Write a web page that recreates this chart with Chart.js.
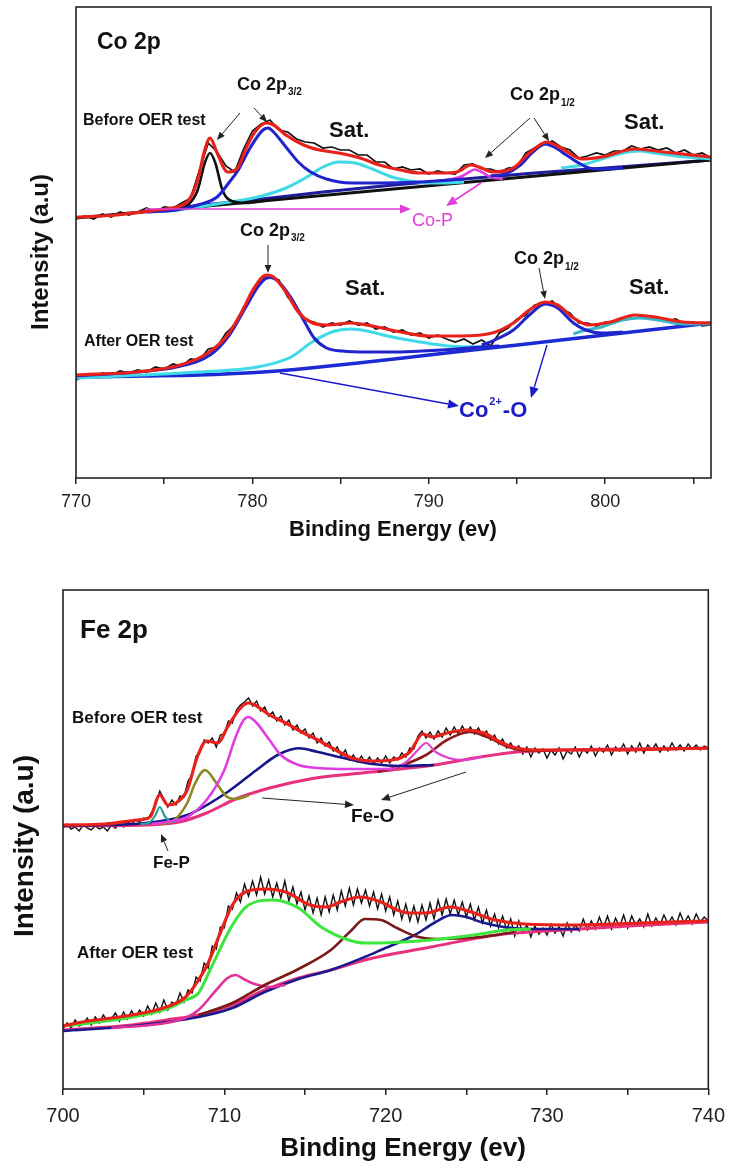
<!DOCTYPE html>
<html><head><meta charset="utf-8">
<script src="https://cdn.jsdelivr.net/npm/chart.js@4.4.1/dist/chart.umd.min.js"></script>
<style>
html,body{margin:0;padding:0;background:#fff;}
#w{position:relative;width:734px;height:1169px;overflow:hidden;}
canvas{position:absolute;left:0;}
#c1{top:0;} #c2{top:560px;}
</style></head><body>
<div id="w"><canvas id="c1" width="734" height="545"></canvas><canvas id="c2" width="734" height="609"></canvas></div>
<script>
// ---------- Co 2p ----------
const coXRange = [770, 806];
const coRawStart = 770, coRawStep = 0.5;
// Before OER test
const coBeforeRaw = [25.9,26.2,25.9,26.4,26.1,26.6,26.3,26.6,27.0,26.6,
 27.1,27.0,27.5,28.0,30.8,33.5,32.6,31.2,30.6,32.9,
 34.7,35.4,35.8,34.8,34.6,33.9,33.6,33.5,33.0,33.1,
 32.8,32.8,32.3,32.3,31.6,31.6,30.9,31.1,30.8,30.9,
 30.4,30.7,30.5,30.4,31.3,31.4,30.9,30.9,30.6,31.0,
 31.1,32.5,33.0,33.3,33.7,33.1,32.8,32.0,32.2,32.5,
 32.3,32.7,32.7,33.2,32.9,33.1,32.8,33.0,32.5,32.8,
 32.3,32.5,32.0];
const coBeforeEnvE = [770,772.3,774.6,775.7,776.4,776.9,777.3,777.6,778.0,778.6,779.2,779.6,780.1,780.8,781.2,781.9,782.9,783.8,784.9,786.1,787.2,788.4,789.5,790.7,791.6,792.4,793.0,793.6,794.8,795.7,796.7,797.5,798.7,799.8,801.7,803.3,806];
const coBeforeEnvI = [26.07,26.3,26.8,27.1,27.8,29.8,32.8,34.0,32.5,30.6,31.1,32.8,34.5,35.5,35.3,34.3,33.3,32.8,32.5,32.0,31.3,30.8,30.5,30.5,30.6,31.3,31.0,30.6,31.0,32.5,33.6,33.0,31.9,32.1,32.9,32.6,32.1];
const coBeforeBgE = [770,788,806];
const coBeforeBgI = [26.0,28.9,31.8];
const coBeforeBg2E = [775,780,784,788,792,796,800,806];
const coBeforeBg2I = [26.9,27.8,28.6,29.3,29.9,30.5,31.0,31.8];
const coBeforePhosE = [774,775.5,776.4,776.9,777.3,777.6,777.9,778.3,778.7,779.6,781];
const coBeforePhosI = [26.65,26.9,27.4,28.8,31.5,32.5,31.5,28.8,27.8,27.5,27.8];
const coBefore32E = [774,775.7,776.9,778.0,778.7,779.2,779.9,780.6,780.9,781.2,781.9,782.6,783.3,784.2,785.6,787.2,789.5,792];
const coBefore32I = [26.6,26.8,27.3,28.1,29.6,30.8,33.1,34.8,35.0,34.6,33.1,31.6,30.6,29.9,29.5,29.5,29.6,29.9];
const coBeforeSat1E = [774,775.7,778.0,780.3,781.9,783.1,784.0,784.9,785.8,786.8,787.9,789.3,790.7,792];
const coBeforeSat1I = [26.6,26.8,27.4,28.1,29.0,30.1,31.1,31.6,31.5,30.9,30.1,29.6,29.5,29.6];
const coBeforeCoPE = [790.5,791.3,791.9,792.3,792.6,793.0,793.5,794.2];
const coBeforeCoPI = [29.7,29.9,30.2,30.6,30.85,30.6,30.1,29.9];
const coBefore12E = [793.5,794.3,795.2,795.9,796.6,797.1,797.8,798.5,799.1,799.8,801];
const coBefore12I = [30.2,30.4,31.3,32.6,33.4,33.1,32.3,31.5,31.0,30.9,31.0];
const coBeforeSat2E = [797.5,798.7,799.8,801.0,801.9,802.8,804.0,806];
const coBeforeSat2I = [31.0,31.3,31.9,32.5,32.7,32.5,32.2,31.9];
// After OER test
const coAfterRaw = [9.8,10.2,10.1,10.5,10.3,10.7,10.5,10.8,10.6,11.1,
 10.9,11.4,11.2,11.9,11.8,12.9,13.1,14.5,15.3,17.1,
 18.5,19.9,20.1,19.8,18.1,17.1,15.8,15.6,15.1,15.5,
 15.3,15.7,15.3,15.5,14.9,15.1,14.6,14.8,14.3,14.5,
 14.0,14.3,13.9,13.6,13.9,13.4,13.8,13.2,14.5,15.0,
 15.9,16.3,17.3,17.4,17.7,16.9,16.5,15.5,15.5,15.2,
 15.6,15.5,15.8,15.9,16.1,15.9,16.1,15.7,15.9,15.4,
 15.6,15.2,15.3];
const coAfterEnvE = [770,773.4,775.7,777.3,778.5,779.4,780.1,780.8,781.2,781.9,782.6,783.3,784.2,785.6,786.8,788.4,790.0,791.8,793.6,794.8,795.7,796.6,797.3,798.2,799.1,800.3,801.7,802.8,804.4,806];
const coAfterEnvI = [10.3,10.6,11.2,12.3,14.1,16.6,19.0,20.3,20.1,18.6,16.6,15.6,15.3,15.5,15.2,14.6,14.2,14.2,14.5,15.5,16.8,17.6,17.3,16.0,15.3,15.6,16.3,16.1,15.6,15.5];
const coAfterBgE = [770,774,777,779,781,783,786,790,794,798,802,806];
const coAfterBgI = [10.1,10.2,10.3,10.45,10.65,10.95,11.5,12.3,13.1,13.9,14.7,15.5];
const coAfter32E = [770,773.4,775.7,777.6,778.7,779.6,780.3,780.8,781.0,781.5,782.2,782.9,783.5,784.2,785.1,786.5,788.4,790.7,793.0,794];
const coAfter32I = [10.2,10.6,11.1,12.3,14.3,17.0,19.1,20.0,20.05,19.6,18.0,15.8,14.0,13.0,12.7,12.6,12.6,12.8,13.1,13.2];
const coAfterSat1E = [770,776.9,780.3,782.2,783.3,784.5,785.6,786.5,787.9,789.5,791.1,793];
const coAfterSat1I = [10.0,10.6,11.1,12.1,13.5,14.6,14.9,14.7,14.1,13.6,13.2,13.1];
const coAfter12E = [793.0,793.6,794.8,795.7,796.6,797.3,798.2,798.9,799.8,801];
const coAfter12I = [13.3,13.7,14.8,16.3,17.4,17.0,15.5,14.8,14.5,14.6];
const coAfterSat2E = [798.2,798.7,799.8,801.0,801.9,803.0,804.4,806];
const coAfterSat2I = [14.4,14.7,15.1,15.8,16.0,15.8,15.4,15.4];

// ---------- Fe 2p ----------
const feXRange = [700, 740];
const feRawStart = 700, feRawStep = 0.25;
const feBeforeRaw = [
 26.1,26.5,26.0,26.2, 25.8,26.4,26.1,25.9, 26.3,26.0,26.2,25.8, 26.4,26.1,26.5,26.2, 26.7,26.5,26.9,26.7,
 27.1,27.0,27.7,28.6, 29.8,29.0,28.2,28.9, 28.4,29.3,29.2,30.8, 31.4,33.3,33.7,34.9, 34.6,35.1,34.2,35.4,
 35.5,36.8,36.6,37.9, 38.4,38.7,39.1,38.3, 38.8,37.8,38.2,37.3, 37.7,36.8,37.3,36.4, 36.9,35.9,36.4,35.6,
 36.0,35.1,35.6,34.6, 35.1,34.3,34.7,33.8, 34.2,33.3,33.9,32.9, 33.4,32.7,33.3,32.6, 33.2,32.5,33.1,32.6,
 33.3,32.6,33.2,32.9, 33.6,33.2,34.1,34.0, 35.3,35.8,35.1,35.7, 35.0,35.8,35.2,36.1, 35.4,36.2,35.5,36.3,
 35.6,36.2,35.5,36.1, 35.3,35.8,34.9,35.4, 34.5,35.0,34.1,34.6, 33.9,34.3,33.5,34.2, 33.2,34.1,33.6,34.0,
 33.1,33.9,33.4,34.1, 33.0,33.8,33.5,34.2, 33.2,34.0,33.6,34.3, 33.3,34.1,33.7,34.4, 33.4,34.2,33.8,34.5,
 33.5,34.3,33.7,34.6, 33.6,34.4,33.9,34.5, 33.7,34.3,33.8,34.6, 33.9,34.4,33.8,34.5, 34.0,34.4,33.9,34.3,
 34.1];
const feBeforeEnvE = [700,702.6,704.6,705.4,706.0,706.5,707.0,707.7,708.3,708.9,709.6,710.2,711.0,711.5,712.0,712.8,713.8,714.8,715.8,716.9,717.9,719.2,720.4,721.5,722.3,722.9,723.8,725.0,726.1,727.1,728.1,729.4,733.2,740];
const feBeforeEnvI = [26.4,26.5,26.9,27.2,29.4,28.4,28.6,29.9,33.1,34.8,34.6,36.2,38.1,38.6,38.3,37.4,36.6,35.7,34.9,33.9,33.1,32.8,32.9,33.7,35.5,35.2,35.6,35.9,35.6,34.7,34.1,33.9,33.9,34.1];
const feBeforeBgE = [700,705.1,707.2,708.9,710.7,712.8,715.3,717.9,720.4,723,725.5,728.1,730.7,740];
const feBeforeBgI = [26.3,26.4,26.7,27.6,29.0,30.1,31.0,31.5,31.9,32.4,33.1,33.7,33.9,34.07];
const feBeforeFePE = [704.8,705.3,705.7,706.0,706.3,706.6,707.0];
const feBeforeFePI = [26.5,26.6,27.3,28.2,27.3,26.8,26.7];
const feBeforeOliveE = [706.0,706.9,707.7,708.2,708.8,709.5,710.1,710.7,711.5];
const feBeforeOliveI = [26.5,26.9,28.6,30.6,31.9,30.6,29.3,29.0,29.35];
const feBeforeMagE = [705.5,706.8,707.7,708.9,710.0,710.7,711.2,711.5,712.0,712.8,713.5,714.6,715.8,717.9,720.4];
const feBeforeMagI = [26.5,26.8,27.2,28.9,31.9,35.2,36.9,37.2,36.6,34.9,33.4,32.4,32.1,32.0,32.0];
const feBeforeNavyE = [700,705.1,707.7,710.2,712.0,713.3,714.6,715.8,717.4,719.2,721,723];
const feBeforeNavyI = [26.3,26.6,27.4,29.7,31.9,33.4,34.07,33.7,33.1,32.5,32.3,32.4];
const feBeforeMag2E = [720.4,721.2,722.0,722.5,723.1,723.9,724.8,726];
const feBeforeMag2I = [32.0,32.6,33.9,34.6,33.7,33.1,32.9,33.2];
const feBeforeBrownE = [719.5,720.9,722.5,723.8,725.2,726.3,727.6,728.9,730.7];
const feBeforeBrownI = [31.7,32.3,33.4,34.9,35.7,35.2,34.2,33.8,33.9];
// After OER test
const feAfterRaw = [
 6.0,6.6,6.1,6.9, 6.3,6.5,7.1,6.4, 7.2,6.6,7.4,6.8, 7.0,7.6,6.8,7.7, 7.0,7.8,7.2,7.9,
 7.3,8.3,7.5,8.6, 7.7,8.9,7.9,8.7, 8.4,9.6,8.7,9.9, 9.6,11.2,10.8,12.6, 12.1,14.3,14.0,16.2,
 16.1,18.3,18.0,19.6, 18.7,20.5,19.3,20.8, 19.4,21.2,19.5,20.9, 19.2,20.6,19.1,20.8, 18.8,20.2,18.5,19.7,
 17.9,19.3,17.6,19.1, 17.4,19.2,17.7,19.4, 17.9,19.8,18.3,20.1, 18.4,20.0,18.6,19.9, 18.3,19.7,18.0,19.5,
 17.8,19.2,17.4,18.8, 17.0,18.5,16.8,18.3, 16.7,18.4,16.9,18.6, 17.0,18.9,17.4,19.0, 17.5,18.9,17.4,18.7,
 17.2,18.5,16.9,18.2, 16.6,17.9,16.3,17.5, 16.1,17.3,15.9,17.0, 15.3,16.8,15.6,16.4, 15.2,16.3,15.5,16.1,
 15.4,16.5,15.6,16.2, 15.3,16.6,15.7,16.4, 15.8,17.0,15.9,16.8, 16.0,17.2,16.1,17.3, 16.0,17.1,16.2,17.4,
 16.1,17.3,16.4,17.0, 16.2,17.5,16.3,17.1, 16.4,17.4,16.5,17.2, 16.4,17.6,16.6,17.3, 16.5,17.5,16.7,17.2,
 16.8];
const feAfterEnvE = [700,701.2,704.3,706.4,707.6,708.4,709.0,709.5,710.0,710.5,711.3,712.5,713.8,715.3,716.3,717.2,718.4,719.7,720.7,721.5,722.5,724.0,725.3,726.8,728.6,731.9,735.8,740];
const feAfterEnvI = [6.3,6.7,7.4,8.2,9.2,10.9,12.6,14.6,16.6,18.4,19.7,20.0,19.7,18.4,18.2,18.7,19.2,18.7,17.9,17.6,17.6,18.2,17.7,16.9,16.5,16.4,16.6,16.8];
const feAfterBgE = [700,704.3,706.4,708.4,710.5,712.5,714.6,716.6,718.7,722.8,726.9,731,735.1,740];
const feAfterBgI = [5.9,6.4,6.9,7.4,8.4,9.9,11.1,11.9,12.9,14.2,15.4,15.9,16.3,16.7];
const feAfterNavyE = [700,704.3,708.4,710.5,712.5,714.6,716.6,718.7,719.7,721.8,723.0,724.1,725.0,725.9,727.3,729,732];
const feAfterNavyI = [5.8,6.3,7.2,8.1,9.7,11.0,11.9,13.2,13.9,15.4,16.6,17.4,17.2,16.7,16.2,16.0,16.0];
const feAfterMagE = [703,706.4,707.7,708.4,709.5,710.2,710.7,711.2,711.7,712.9,713.8];
const feAfterMagI = [6.1,6.6,7.2,7.9,9.9,11.1,11.4,11.0,10.6,10.2,10.4];
const feAfterGreenE = [700,701.2,704.3,706.4,707.6,708.4,709.2,710.5,711.5,713.0,714.6,716.0,717.7,718.7,720.5,722.8,725.5,727.5,729];
const feAfterGreenI = [6.3,6.5,7.2,8.0,8.9,9.6,12.2,16.4,18.4,18.9,18.1,16.2,14.9,14.6,14.65,14.9,15.4,15.9,16.0];
const feAfterBrownE = [708.4,710.5,712.5,714.6,716.6,717.9,718.7,719.7,720.7,721.8,723.2,725.9,728];
const feAfterBrownI = [7.4,8.6,10.4,12.0,13.9,15.9,17.0,16.9,16.1,15.3,15.0,15.2,15.7];

// ---------- helpers ----------
const FONT = '"Liberation Sans", Arial, Helvetica, sans-serif';
const RED = '#e8221b';
function series(E, I){ return E.map((e,i)=>({x:e, y:I[i]})); }
function rawSeries(start, step, I){ return I.map((v,i)=>({x: start + i*step, y: v})); }
function ds(data, color, width, order, smooth){
  return {data, borderColor:color, borderWidth:width, order, pointRadius:0, fill:false,
    cubicInterpolationMode: smooth===false ? 'default' : 'monotone', tension: 0};
}

const deco = {
  id:'deco',
  afterDraw(chart, args, o){
    const ctx = chart.ctx, a = chart.chartArea;
    ctx.save();
    ctx.strokeStyle = '#222'; ctx.lineWidth = 1.6;
    ctx.strokeRect(a.left, a.top, a.right - a.left, a.bottom - a.top);
    (o.arrows||[]).forEach(ar=>{
      const [x1,y1,x2,y2] = ar.p, head = ar.head||8;
      ctx.strokeStyle = ar.color; ctx.fillStyle = ar.color; ctx.lineWidth = ar.w||1;
      const ang = Math.atan2(y2-y1, x2-x1);
      const bx = x2 - head*Math.cos(ang), by = y2 - head*Math.sin(ang);
      ctx.beginPath(); ctx.moveTo(x1,y1); ctx.lineTo(bx,by); ctx.stroke();
      const hw = head*0.42;
      ctx.beginPath(); ctx.moveTo(x2,y2);
      ctx.lineTo(bx + hw*Math.sin(ang), by - hw*Math.cos(ang));
      ctx.lineTo(bx - hw*Math.sin(ang), by + hw*Math.cos(ang));
      ctx.closePath(); ctx.fill();
    });
    ctx.textBaseline = 'alphabetic';
    (o.texts||[]).forEach(t=>{
      let x = t.x;
      ctx.fillStyle = t.color || '#111';
      t.parts.forEach(p=>{
        ctx.font = p[1] + ' ' + FONT; ctx.textAlign = 'left';
        ctx.fillText(p[0], x, t.y + (p[2]||0));
        x += ctx.measureText(p[0]).width + (p[3]||0);
      });
    });
    if (o.xTitle){
      ctx.fillStyle = '#111'; ctx.font = o.xTitle.font + ' ' + FONT; ctx.textAlign = 'center';
      ctx.fillText(o.xTitle.text, o.xTitle.x, o.xTitle.y);
    }
    if (o.yTitle){
      ctx.save(); ctx.translate(o.yTitle.x, o.yTitle.y); ctx.rotate(-Math.PI/2);
      ctx.fillStyle = '#111'; ctx.font = o.yTitle.font + ' ' + FONT; ctx.textAlign = 'center';
      ctx.fillText(o.yTitle.text, 0, 0); ctx.restore();
    }
    ctx.restore();
  }
};

function options(c){
  return {
    responsive:false, animation:false, devicePixelRatio:1, events:[],
    layout:{padding:{left:c.padL, right:c.padR, top:c.padT, bottom:c.padB}},
    plugins:{legend:{display:false}, tooltip:{enabled:false}, deco:c.deco},
    scales:{
      x:{type:'linear', min:c.xr[0], max:c.xr[1],
        afterFit(s){ s.height = c.xH; },
        afterBuildTicks(s){ s.ticks = s.ticks.filter(t=>Math.abs(t.value % 5) < 1e-6); },
        ticks:{stepSize:5, includeBounds:false, autoSkip:false, maxRotation:0, minRotation:0,
          padding:c.tickPad, color:'#222', font:{family:FONT, size:c.tickSize},
          callback:(v)=> Math.abs(v % 10) < 1e-6 ? String(v) : ''},
        grid:{display:true, drawOnChartArea:false, drawTicks:true, tickLength:6, color:'#222', lineWidth:1.5},
        border:{display:false}},
      y:{display:false, min:0, max:c.ymax}
    }
  };
}

// ---------- Chart 1 : Co 2p ----------
const CYAN = '#3fd9e8', BLUE = '#1f24cc';
new Chart(document.getElementById('c1'), {
  type:'line',
  data:{datasets:[
    ds(series(coBeforeEnvE, coBeforeEnvI), RED, 3.2, 0),
    ds(series(coAfterEnvE, coAfterEnvI), RED, 3.2, 0),
    ds(series(coBefore32E, coBefore32I), BLUE, 3, 1),
    ds(series(coBefore12E, coBefore12I), BLUE, 3, 1),
    ds(series(coBeforePhosE, coBeforePhosI), '#111', 2.6, 1),
    ds(series(coBeforeCoPE, coBeforeCoPI), '#e040d8', 2.6, 1),
    ds(series(coBeforeSat1E, coBeforeSat1I), CYAN, 3, 1),
    ds(series(coBeforeSat2E, coBeforeSat2I), CYAN, 3, 1),
    ds(series(coAfter32E, coAfter32I), BLUE, 3, 1),
    ds(series(coAfter12E, coAfter12I), BLUE, 3, 1),
    ds(series(coAfterSat1E, coAfterSat1I), CYAN, 3, 1),
    ds(series(coAfterSat2E, coAfterSat2I), '#35b8c8', 3, 1),
    ds(series(coBeforeBgE, coBeforeBgI), '#111', 3, 2, false),
    ds(series(coBeforeBg2E, coBeforeBg2I), '#1c1c9c', 3, 2),
    ds(series(coAfterBgE, coAfterBgI), '#1c2ad4', 3.5, 2),
    ds(rawSeries(coRawStart, coRawStep, coBeforeRaw), '#111', 1.7, 3, false),
    ds(rawSeries(coRawStart, coRawStep, coAfterRaw), '#111', 1.7, 3, false)
  ]},
  options: options({xr:coXRange, ymax:47.1, padL:76, padR:23, padT:7, padB:7, xH:60, tickPad:7, tickSize:18,
    deco:{
      xTitle:{text:'Binding Energy (ev)', x:393, y:536, font:'bold 22px'},
      yTitle:{text:'Intensity (a.u)', x:48, y:252, font:'bold 24px'},
      texts:[
        {x:97, y:49, parts:[['Co 2p','bold 23px']]},
        {x:83, y:125, parts:[['Before OER test','bold 16px']]},
        {x:237, y:90, parts:[['Co 2p','bold 18px',0,1],['3/2','bold 10px',5]]},
        {x:329, y:137, parts:[['Sat.','bold 22px']]},
        {x:510, y:100, parts:[['Co 2p','bold 18px',0,1],['1/2','bold 10px',6]]},
        {x:624, y:129, parts:[['Sat.','bold 22px']]},
        {x:412, y:226, color:'#e040d8', parts:[['Co-P','18px']]},
        {x:240, y:236, parts:[['Co 2p','bold 18px',0,1],['3/2','bold 10px',5]]},
        {x:345, y:295, parts:[['Sat.','bold 22px']]},
        {x:514, y:264, parts:[['Co 2p','bold 18px',0,1],['1/2','bold 10px',6]]},
        {x:629, y:294, parts:[['Sat.','bold 22px']]},
        {x:84, y:346, parts:[['After OER test','bold 16px']]},
        {x:459, y:417, color:'#1a1acc', parts:[['Co','bold 22px',0,1],['2+','bold 11px',-12,1],['-O','bold 22px']]}
      ],
      arrows:[
        {p:[240,113,217,140], color:'#222', w:1, head:8},
        {p:[254,108,267,122], color:'#222', w:1, head:8},
        {p:[530,118,485,158], color:'#222', w:1, head:8},
        {p:[534,118,549,141], color:'#222', w:1, head:8},
        {p:[145,209,411,209], color:'#e040d8', w:1.6, head:11},
        {p:[481,183,446,206], color:'#e040d8', w:1.6, head:11},
        {p:[268,245,268,273], color:'#222', w:1, head:8},
        {p:[539,268,545,299], color:'#222', w:1, head:8},
        {p:[280,373,459,406], color:'#1a1acc', w:1.4, head:11},
        {p:[547,345,531,398], color:'#1a1acc', w:1.4, head:11}
      ]
    }})
  , plugins:[deco]
});

// ---------- Chart 2 : Fe 2p ----------
new Chart(document.getElementById('c2'), {
  type:'line',
  data:{datasets:[
    ds(series(feBeforeEnvE, feBeforeEnvI), RED, 3.2, 0),
    ds(series(feAfterEnvE, feAfterEnvI), RED, 3.2, 0),
    ds(series(feBeforeMagE, feBeforeMagI), '#e03ee0', 2.6, 1),
    ds(series(feBeforeOliveE, feBeforeOliveI), '#8c8a22', 2.6, 1),
    ds(series(feBeforeFePE, feBeforeFePI), '#2a9d9d', 2.2, 1),
    ds(series(feBeforeNavyE, feBeforeNavyI), '#16168a', 2.6, 1),
    ds(series(feBeforeMag2E, feBeforeMag2I), '#e040d0', 2.2, 1),
    ds(series(feBeforeBrownE, feBeforeBrownI), '#8b1c1c', 2.6, 1),
    ds(series(feAfterGreenE, feAfterGreenI), '#3ce63c', 3, 1),
    ds(series(feAfterBrownE, feAfterBrownI), '#7a1a1a', 2.6, 1),
    ds(series(feAfterMagE, feAfterMagI), '#e0309a', 2.6, 1),
    ds(series(feAfterNavyE, feAfterNavyI), '#1a1a90', 2.6, 1),
    ds(series(feBeforeBgE, feBeforeBgI), '#e8307c', 3, 2),
    ds(series(feAfterBgE, feAfterBgI), '#e8307c', 3, 2),
    ds(rawSeries(feRawStart, feRawStep, feBeforeRaw), '#111', 1.4, 3, false),
    ds(rawSeries(feRawStart, feRawStep, feAfterRaw), '#111', 1.4, 3, false)
  ]},
  options: options({xr:feXRange, ymax:49.9, padL:63, padR:20, padT:30, padB:20, xH:60, tickPad:9, tickSize:20,
    deco:{
      xTitle:{text:'Binding Energy (ev)', x:403, y:596, font:'bold 26px'},
      yTitle:{text:'Intensity (a.u)', x:33, y:286, font:'bold 28px'},
      texts:[
        {x:80, y:78, parts:[['Fe 2p','bold 26px']]},
        {x:72, y:163, parts:[['Before OER test','bold 17px']]},
        {x:351, y:262, parts:[['Fe-O','bold 19px']]},
        {x:153, y:308, parts:[['Fe-P','bold 17px']]},
        {x:77, y:398, parts:[['After OER test','bold 17px']]}
      ],
      arrows:[
        {p:[262,238,354,245], color:'#222', w:1, head:9},
        {p:[466,212,381,240], color:'#222', w:1, head:9},
        {p:[168,291,161,274], color:'#222', w:1, head:8}
      ]
    }})
  , plugins:[deco]
});
</script>
</body></html>
